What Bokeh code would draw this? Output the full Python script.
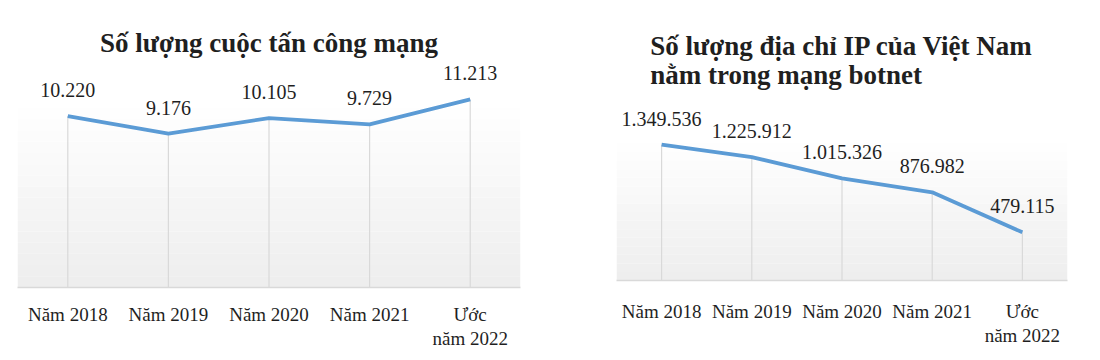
from bokeh.plotting import figure
from bokeh.layouts import row, column
from bokeh.models import ColumnDataSource, BoxAnnotation, Range1d, FactorRange
from bokeh.core.properties import value
from bokeh.embed import file_html
from bokeh.resources import INLINE

# ---- data ----
categories = ["Năm 2018", "Năm 2019", "Năm 2020", "Năm 2021", "Ước\nnăm 2022"]
attacks = [10220, 9176, 10105, 9729, 11213]
attack_labels = ["10.220", "9.176", "10.105", "9.729", "11.213"]
botnet_ips = [1349536, 1225912, 1015326, 876982, 479115]
botnet_labels = ["1.349.536", "1.225.912", "1.015.326", "876.982", "479.115"]

title_left = "Số lượng cuộc tấn công mạng"
title_right = "Số lượng địa chỉ IP của Việt Nam\nnằm trong mạng botnet"

SERIF = "Liberation Serif"
LINE_COLOR = "#5b9bd5"
GRID_COLOR = "#d9d9d9"
TEXT_COLOR = "#1f1f1f"


def make_chart(cats, vals, labels, title, width, height, ymax,
               border_left, border_right, border_top, border_bottom,
               label_standoff, grad_frac, title_standoff):
    src = ColumnDataSource(dict(x=cats, y=vals, lab=labels, y0=[0] * len(vals)))
    p = figure(x_range=FactorRange(*cats, range_padding=0),
               y_range=Range1d(0, ymax),
               width=width, height=height,
               output_backend="svg", toolbar_location=None,
               min_border_left=border_left, min_border_right=border_right,
               min_border_top=border_top, min_border_bottom=border_bottom)
    p.title.text = title
    p.title.align = "center"
    p.title.text_font = SERIF
    p.title.text_font_size = "27px"
    p.title.text_font_style = "bold"
    p.title.text_color = TEXT_COLOR
    p.title.text_line_height = 0.95
    p.title.standoff = title_standoff

    p.background_fill_color = "white"
    p.border_fill_color = "white"
    p.outline_line_color = None
    p.grid.visible = False
    p.yaxis.visible = False

    # soft vertical gradient in the plot area
    nb = 16
    for i in range(nb):
        t = i / nb
        shade = int(round(0xee + (0xff - 0xee) * t))
        col = "#%02x%02x%02x" % (shade, shade, shade)
        p.add_layout(BoxAnnotation(bottom=ymax * grad_frac * i / nb,
                                   top=ymax * grad_frac * (i + 1) / nb,
                                   fill_color=col, fill_alpha=1.0,
                                   line_color=None, level="underlay"))

    p.segment(x0="x", y0="y0", x1="x", y1="y", source=src,
              line_color=GRID_COLOR, line_width=1.2)
    p.line(x="x", y="y", source=src, line_color=LINE_COLOR, line_width=3.8)
    p.text(x="x", y="y", text="lab", source=src, y_offset=-26,
           text_align="center", text_baseline="middle",
           text_font=value(SERIF), text_font_size="20px", text_color=TEXT_COLOR)

    ax = p.xaxis[0]
    ax.axis_line_color = GRID_COLOR
    ax.axis_line_width = 1.5
    ax.major_tick_line_color = None
    ax.minor_tick_line_color = None
    ax.major_tick_out = 0
    ax.major_tick_in = 0
    ax.major_label_standoff = label_standoff
    ax.major_label_text_font = SERIF
    ax.major_label_text_font_size = "19px"
    ax.major_label_text_color = TEXT_COLOR
    ax.major_label_text_line_height = 1.15
    return p


p1 = make_chart(categories, attacks, attack_labels, title_left,
                558, 353, 13715, 17, 38, 57, 66, 16, 0.78, 0)
p2 = make_chart(categories, botnet_ips, botnet_labels, title_right,
                534, 353, 1839000, 58, 25, 95, 73, 20, 0.74, 12)

layout = row(column(p1), column(p2))
open("out.html", "w").write(file_html(layout, INLINE))
